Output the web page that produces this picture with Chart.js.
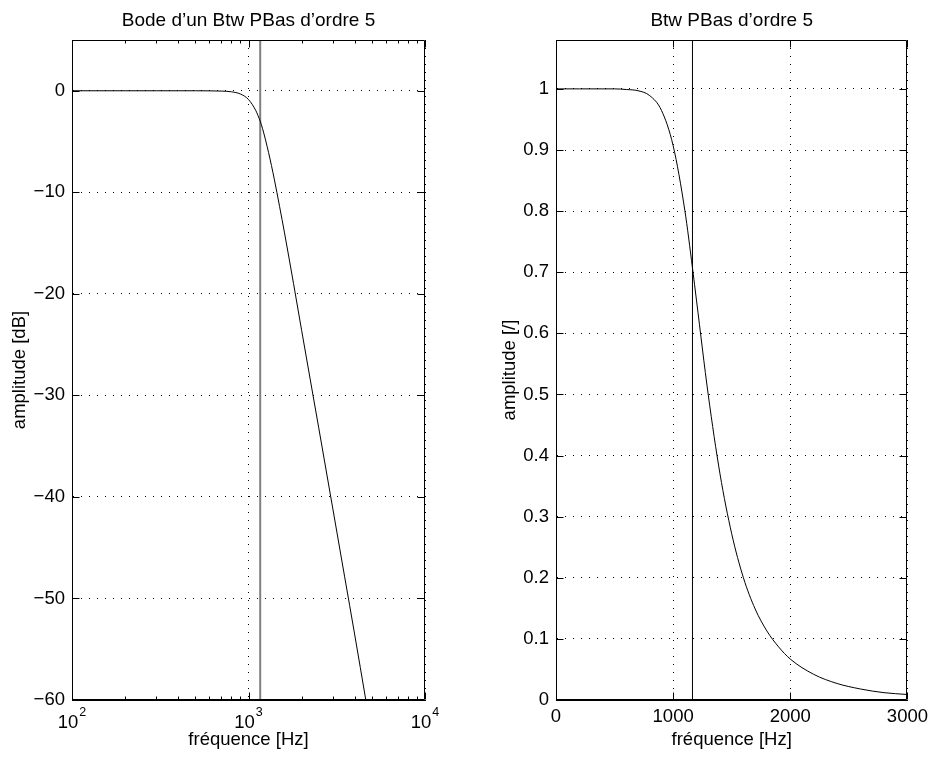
<!DOCTYPE html>
<html>
<head>
<meta charset="utf-8">
<script src="https://cdn.jsdelivr.net/npm/chart.js@4.4.0/dist/chart.umd.min.js"></script>
<style>
  body { margin: 0; background: #fff; }
  #wrap { position: relative; width: 934px; height: 760px; }
  canvas { position: absolute; top: 0; }
</style>
</head>
<body>
<div id="wrap">
  <canvas id="bodeChart" width="467" height="760" style="left:0"></canvas>
  <canvas id="linChart" width="467" height="760" style="left:467px"></canvas>
</div>
<script>
// cut-off frequency (vertical marker), Hz
const cutoffHz = 1165;

// left plot : gain in dB vs frequency (log axis)
const bodeFreq = [100, 200, 300, 400, 500, 600, 700, 800, 900, 1000, 1100, 1165, 1200, 1300, 1400, 1500, 1600, 1800, 2000, 2500, 3000, 3500, 4000, 4620];
const bodeDb   = [0, 0, 0, 0, 0, -0.01, -0.03, -0.1, -0.32, -0.86, -1.95, -3.0, -3.7, -6.1, -8.7, -11.4, -14.0, -19.0, -23.6, -33.2, -41.1, -47.8, -53.6, -60];
const bodeXTicks = [100, 1000, 10000];
const bodeXExp   = ['2', '3', '4'];
const bodeXMinor = [200, 300, 400, 500, 600, 700, 800, 900, 2000, 3000, 4000, 5000, 6000, 7000, 8000, 9000];
const bodeYTicks  = [-60, -50, -40, -30, -20, -10, 0];
const bodeYLabels = ['\u221260', '\u221250', '\u221240', '\u221230', '\u221220', '\u221210', '0'];

// right plot : linear amplitude vs frequency
const linFreq = [0, 200, 400, 500, 600, 700, 800, 900, 1000, 1100, 1165, 1200, 1300, 1400, 1500, 1600, 1700, 1800, 1900, 2000, 2200, 2400, 2600, 2800, 3000];
const linAmp  = [1, 1, 1, 1, 0.999, 0.997, 0.989, 0.965, 0.907, 0.801, 0.707, 0.653, 0.499, 0.370, 0.272, 0.200, 0.149, 0.113, 0.087, 0.067, 0.042, 0.027, 0.018, 0.012, 0.009];
const linXTicks  = [0, 1000, 2000, 3000];
const linXLabels = ['0', '1000', '2000', '3000'];
const linYTicks  = [0, 0.1, 0.2, 0.3, 0.4, 0.5, 0.6, 0.7, 0.8, 0.9, 1];
const linYLabels = ['0', '0.1', '0.2', '0.3', '0.4', '0.5', '0.6', '0.7', '0.8', '0.9', '1'];

const fontFamily = "'Liberation Sans', Arial, Helvetica, sans-serif";
Chart.defaults.font.family = fontFamily;
Chart.defaults.font.size = 18.5;
Chart.defaults.color = '#000';

// box around the axes + inward tick marks (matlab style)
function framePlugin(minorTicks, expLabels) {
    return {
        id: 'frame',
        afterDraw(chart) {
            const { ctx, chartArea: a } = chart;
            const xs = chart.scales.x, ys = chart.scales.y;
            const L = Math.round(a.left) + 0.5, R = Math.round(a.right) - 0.5;
            const T = Math.round(a.top) + 0.5, B = Math.round(a.bottom) - 0.5;
            ctx.save();
            ctx.strokeStyle = '#000';
            ctx.lineWidth = 1;
            ctx.beginPath();
            ctx.rect(L, T, R - L, B - T);
            xs.ticks.forEach(t => {
                const px = Math.round(xs.getPixelForValue(t.value)) + 0.5;
                ctx.moveTo(px, B); ctx.lineTo(px, B - 7);
                ctx.moveTo(px, T); ctx.lineTo(px, T + 7);
            });
            ys.ticks.forEach(t => {
                const py = Math.round(ys.getPixelForValue(t.value)) + 0.5;
                ctx.moveTo(L, py); ctx.lineTo(L + 7, py);
                ctx.moveTo(R, py); ctx.lineTo(R - 7, py);
            });
            (minorTicks || []).forEach(v => {
                const px = Math.round(xs.getPixelForValue(v)) + 0.5;
                ctx.moveTo(px, B); ctx.lineTo(px, B - 3);
                ctx.moveTo(px, T); ctx.lineTo(px, T + 3);
            });
            ctx.stroke();

            // 10^n labels with a raised exponent
            if (expLabels) {
                ctx.fillStyle = '#000';
                ctx.textAlign = 'left';
                ctx.textBaseline = 'alphabetic';
                xs.ticks.forEach((t, i) => {
                    const px = xs.getPixelForValue(t.value);
                    ctx.font = '18.5px ' + fontFamily;
                    const wb = ctx.measureText('10').width;
                    ctx.font = '12.5px ' + fontFamily;
                    const we = ctx.measureText(expLabels[i]).width;
                    const x0 = px - (wb + we + 1) / 2;
                    ctx.font = '18.5px ' + fontFamily;
                    ctx.fillText('10', x0, a.bottom + 28);
                    ctx.font = '12.5px ' + fontFamily;
                    ctx.fillText(expLabels[i], x0 + wb + 1, a.bottom + 16);
                });
            }
            ctx.restore();
        }
    };
}

function setTicks(values) {
    return scale => { scale.ticks = values.map(v => ({ value: v })); };
}

const dotted = { display: true, dash: [1, 7], color: '#000', width: 1 };

// Left chart: Bode diagram
new Chart(document.getElementById('bodeChart').getContext('2d'), {
    type: 'scatter',
    data: {
        datasets: [{
            data: bodeFreq.map((f, i) => ({ x: f, y: bodeDb[i] })),
            showLine: true,
            borderColor: '#000',
            borderWidth: 1,
            pointRadius: 0,
            cubicInterpolationMode: 'monotone'
        }, {
            data: [{ x: cutoffHz, y: 5 }, { x: cutoffHz, y: -60 }],
            showLine: true,
            borderColor: '#808080',
            borderWidth: 2,
            pointRadius: 0
        }]
    },
    options: {
        responsive: false,
        animation: false,
        layout: { padding: { left: 0, right: 42, top: 0, bottom: 0 } },
        plugins: {
            legend: { display: false },
            tooltip: { enabled: false },
            title: {
                display: true,
                fullSize: false,
                text: 'Bode d\u2019un Btw PBas d\u2019ordre 5',
                font: { size: 19, weight: 'normal' },
                color: '#000',
                padding: { top: 9, bottom: 8.2 }
            }
        },
        scales: {
            x: {
                type: 'logarithmic',
                min: 100,
                max: 10000,
                afterBuildTicks: setTicks(bodeXTicks),
                afterFit: s => { s.height = 60; },
                ticks: { display: false },
                grid: { color: '#000', lineWidth: 1, drawTicks: false },
                border: dotted,
                title: { display: true, text: 'fr\u00e9quence [Hz]', font: { size: 18.5 }, padding: { top: 0, bottom: 9 } }
            },
            y: {
                min: -60,
                max: 5,
                afterBuildTicks: setTicks(bodeYTicks),
                afterFit: s => { s.width = 72; },
                ticks: { padding: 7, callback: (v, i) => bodeYLabels[i] },
                grid: { color: '#000', lineWidth: 1, drawTicks: false },
                border: dotted,
                title: { display: true, text: 'amplitude [dB]', font: { size: 18.5 }, padding: { top: 9, bottom: 0 } }
            }
        }
    },
    plugins: [framePlugin(bodeXMinor, bodeXExp)]
});

// Right chart: linear amplitude
new Chart(document.getElementById('linChart').getContext('2d'), {
    type: 'scatter',
    data: {
        datasets: [{
            data: linFreq.map((f, i) => ({ x: f, y: linAmp[i] })),
            showLine: true,
            borderColor: '#000',
            borderWidth: 1,
            pointRadius: 0,
            cubicInterpolationMode: 'monotone'
        }, {
            data: [{ x: cutoffHz, y: 0 }, { x: cutoffHz, y: 1.08 }],
            showLine: true,
            borderColor: '#000',
            borderWidth: 1,
            pointRadius: 0
        }]
    },
    options: {
        responsive: false,
        animation: false,
        layout: { padding: { left: 0, right: 26, top: 0, bottom: 0 } },
        plugins: {
            legend: { display: false },
            tooltip: { enabled: false },
            title: {
                display: true,
                fullSize: false,
                text: 'Btw PBas d\u2019ordre 5',
                font: { size: 19, weight: 'normal' },
                color: '#000',
                padding: { top: 9, bottom: 8.2 }
            }
        },
        scales: {
            x: {
                type: 'linear',
                min: 0,
                max: 3000,
                afterBuildTicks: setTicks(linXTicks),
                afterFit: s => { s.height = 60; },
                ticks: { padding: 6, maxRotation: 0, callback: (v, i) => linXLabels[i] },
                grid: { color: '#000', lineWidth: 1, drawTicks: false },
                border: dotted,
                title: { display: true, text: 'fr\u00e9quence [Hz]', font: { size: 18.5 }, padding: { top: 0, bottom: 9 } }
            },
            y: {
                min: 0,
                max: 1.08,
                afterBuildTicks: setTicks(linYTicks),
                afterFit: s => { s.width = 89; },
                ticks: { padding: 7, callback: (v, i) => linYLabels[i] },
                grid: { color: '#000', lineWidth: 1, drawTicks: false },
                border: dotted,
                title: { display: true, text: 'amplitude [/]', font: { size: 18.5 }, padding: { top: 32, bottom: 0 } }
            }
        }
    },
    plugins: [framePlugin(null, null)]
});
</script>
</body>
</html>
